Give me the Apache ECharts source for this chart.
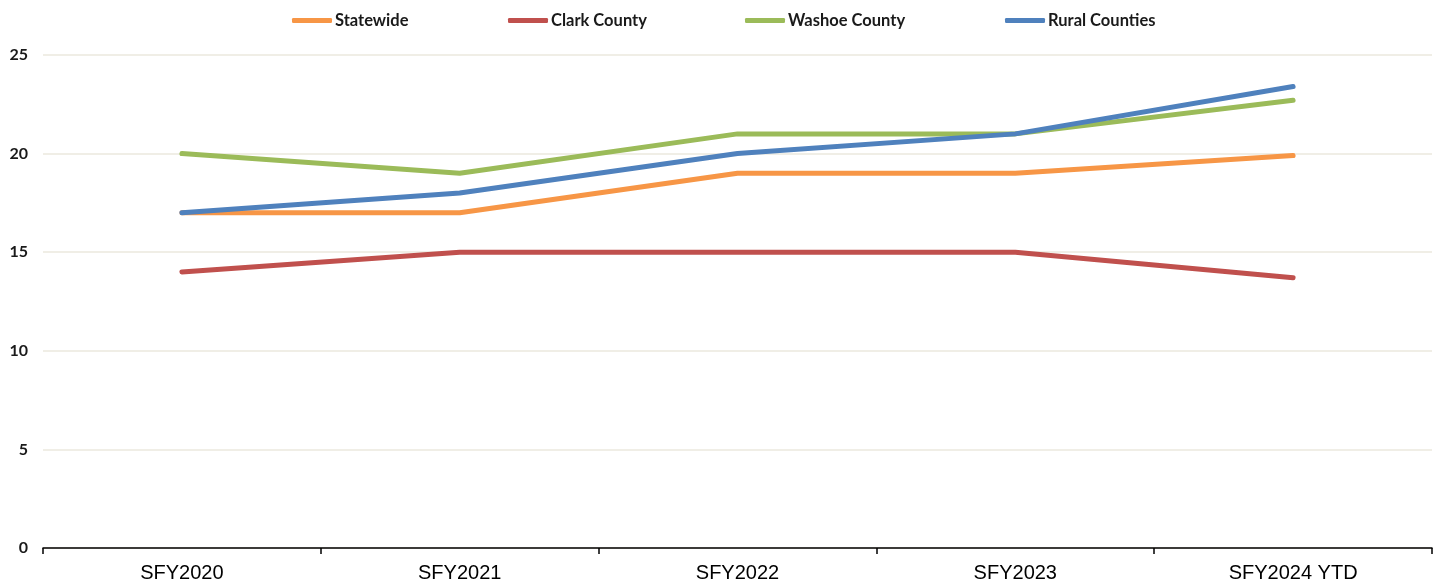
<!DOCTYPE html>
<html lang="en">
<head>
    <meta charset="UTF-8">
    <title>SFY chart</title>
    <script src="https://cdn.jsdelivr.net/npm/echarts@6/dist/echarts.min.js"></script>
    <style>
        html, body { margin: 0; padding: 0; background: #fff; }
    </style>
</head>
<body>
<div id="main" style="width: 1441px;height:584px;"></div>
<script type="text/javascript">
    // data
    var categories = ['SFY2020', 'SFY2021', 'SFY2022', 'SFY2023', 'SFY2024 YTD'];
    var statewide = [17, 17, 19, 19, 19.9];
    var clark = [14, 15, 15, 15, 13.7];
    var washoe = [20, 19, 21, 21, 22.7];
    var rural = [17, 18, 20, 21, 23.4];
    var yTicks = [0, 25, 5];   // min, max, interval

    var myChart = echarts.init(document.getElementById('main'));

    var names = ['Statewide', 'Clark County', 'Washoe County', 'Rural Counties'];
    var colors = ['#f79646', '#c0504d', '#9bbb59', '#4f81bd'];
    var values = [statewide, clark, washoe, rural];
    var legendLeft = [287, 503, 740, 1000];

    // one legend per item so the spacing matches the original
    var legends = names.map(function (n, i) {
        return {
            data: [n],
            left: legendLeft[i],
            top: 7,
            itemWidth: 40,
            itemHeight: 5,
            itemGap: 0,
            icon: 'roundRect',
            textStyle: {
                fontFamily: 'Lato',
                fontSize: 16.5,
                fontWeight: 'bold',
                color: '#1a1a1a',
                padding: [0, 0, 0, -2]
            }
        };
    });

    var series = names.map(function (n, i) {
        return {
            name: n,
            type: 'line',
            data: values[i],
            symbol: 'none',
            color: colors[i],
            lineStyle: { width: 5, cap: 'round', join: 'round' }
        };
    });

    var option = {
        animation: false,
        legend: legends,
        grid: { left: 43, right: 9, top: 55, bottom: 36 },
        xAxis: {
            type: 'category',
            data: categories,
            boundaryGap: true,
            axisLine: { lineStyle: { color: '#000', width: 1.5 } },
            axisTick: { show: true, length: 6, lineStyle: { color: '#000', width: 1.5 } },
            axisLabel: {
                fontFamily: 'Liberation Sans',
                fontSize: 20,
                color: '#000',
                margin: 15
            }
        },
        yAxis: {
            type: 'value',
            min: yTicks[0],
            max: yTicks[1],
            interval: yTicks[2],
            axisLine: { show: false },
            axisTick: { show: false },
            splitLine: { lineStyle: { color: '#ebe8de', width: 1.5 } },
            axisLabel: {
                fontFamily: 'Lato',
                fontSize: 16,
                fontWeight: 'bold',
                color: '#1a1a1a',
                margin: 15
            }
        },
        series: series
    };

    myChart.setOption(option);
</script>
</body>
</html>
